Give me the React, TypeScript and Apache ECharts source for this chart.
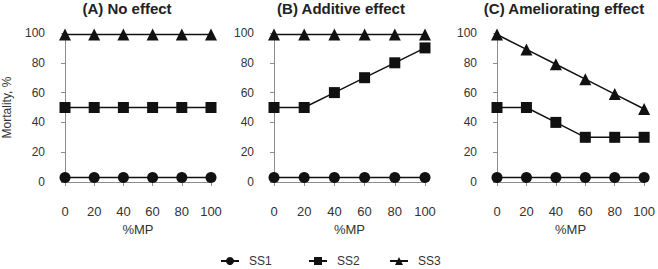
import React, { useEffect, useRef } from "react";
import * as echarts from "echarts";

const xValues = [0, 20, 40, 60, 80, 100];
const panelTitles = ["(A) No effect", "(B) Additive effect", "(C) Ameliorating effect"];
const seriesNames = ["SS1", "SS2", "SS3"];
const symbols = ["circle", "rect", "triangle"];

const ss1A = [3, 3, 3, 3, 3, 3];
const ss2A = [50, 50, 50, 50, 50, 50];
const ss3A = [99, 99, 99, 99, 99, 99];

const ss1B = [3, 3, 3, 3, 3, 3];
const ss2B = [50, 50, 60, 70, 80, 90];
const ss3B = [99, 99, 99, 99, 99, 99];

const ss1C = [3, 3, 3, 3, 3, 3];
const ss2C = [50, 50, 40, 30, 30, 30];
const ss3C = [99, 89, 79, 69, 59, 49];

const panels = [
  [ss1A, ss2A, ss3A],
  [ss1B, ss2B, ss3B],
  [ss1C, ss2C, ss3C],
];

const gridLefts = [60, 274, 497];
const gridWidth = 151;
const legendLefts = [220, 308, 389];

export default function App() {
  const ref = useRef<HTMLDivElement>(null);
  useEffect(() => {
    document.body.style.margin = "0";
    if (!ref.current) return;
    const chart = echarts.init(ref.current, undefined, { renderer: "svg" });
    const font = "Liberation Sans, Arial, sans-serif";
    const axisColor = "#8c8c8c";
    const labelColor = "#333";
    const grids = gridLefts.map((l) => ({ left: l, width: gridWidth, top: 33, height: 149 }));
    const xAxes = gridLefts.map((_, i) => ({
      type: "value",
      gridIndex: i,
      min: 0,
      max: 100,
      interval: 20,
      offset: 17,
      name: "%MP",
      nameLocation: "middle",
      nameGap: 23,
      nameTextStyle: { color: labelColor, fontSize: 13, fontFamily: font },
      axisLine: { show: true, lineStyle: { color: axisColor, width: 1 } },
      axisTick: { show: true, length: 4, lineStyle: { color: axisColor } },
      axisLabel: { color: labelColor, fontSize: 13, fontFamily: font, margin: 6 },
      splitLine: { show: false },
    }));
    const yAxes = gridLefts.map((_, i) => ({
      type: "value",
      gridIndex: i,
      min: 0,
      max: 100,
      interval: 20,
      offset: 17,
      name: i === 0 ? "Mortality, %" : "",
      nameLocation: "middle",
      nameGap: 35,
      nameTextStyle: { color: labelColor, fontSize: 12, fontFamily: font },
      axisLine: { show: true, lineStyle: { color: axisColor, width: 1 } },
      axisTick: { show: true, length: 4, lineStyle: { color: axisColor } },
      axisLabel: { color: labelColor, fontSize: 12, fontFamily: font, margin: 3 },
      splitLine: { show: false },
    }));
    const series: any[] = [];
    panels.forEach((p, pi) => {
      p.forEach((vals, si) => {
        series.push({
          type: "line",
          name: seriesNames[si],
          xAxisIndex: pi,
          yAxisIndex: pi,
          data: xValues.map((x, k) => [x, vals[k]]),
          symbol: symbols[si],
          symbolSize: si === 2 ? 12 : 11,
          lineStyle: { color: "#111", width: 1.5 },
          itemStyle: { color: "#111" },
          color: "#111",
        });
      });
    });
    chart.setOption({
      animation: false,
      title: panelTitles.map((t, i) => ({
        text: t,
        left: gridLefts[i] - 17 + (gridWidth + 17) / 2,
        top: 1,
        padding: 0,
        textAlign: "center",
        textStyle: { fontSize: 15, fontWeight: "bold", color: "#222", fontFamily: font },
      })),
      legend: seriesNames.map((n, i) => ({
        data: [n],
        top: 255,
        left: legendLefts[i],
        padding: 0,
        itemWidth: 18,
        itemHeight: 10,
        textStyle: { color: labelColor, fontSize: 12, fontFamily: font, padding: [0, 0, 0, 5] },
      })),
      grid: grids,
      xAxis: xAxes,
      yAxis: yAxes,
      series,
    });
    return () => chart.dispose();
  }, []);
  return <div ref={ref} style={{ width: 658, height: 269 }} />;
}
